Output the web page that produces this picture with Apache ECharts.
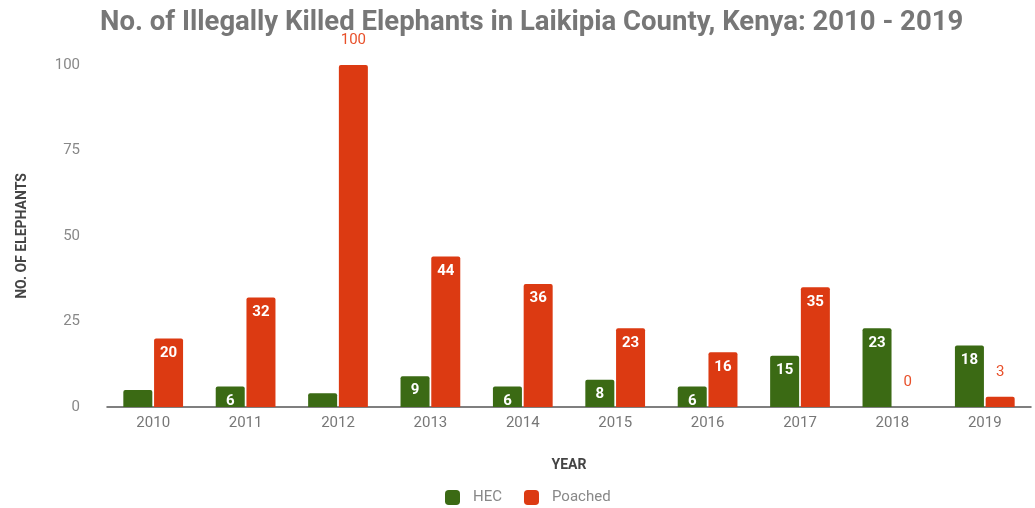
<!DOCTYPE html>
<html><head><meta charset="utf-8">
<script src="https://cdn.jsdelivr.net/npm/echarts@6/dist/echarts.min.js"></script>
<style>html,body{margin:0;padding:0;background:#fff}#c{width:1035px;height:508px}</style>
</head><body><div id="c"></div>
<script>
const years = ['2010','2011','2012','2013','2014','2015','2016','2017','2018','2019'];
const hec = [5, 6, 4, 9, 6, 8, 6, 15, 23, 18];
const poached = [20, 32, 100, 44, 36, 23, 16, 35, 0, 3];
const yTicks = [0, 25, 50, 75, 100];

const chart = echarts.init(document.getElementById('c'));
const insideLabel = {show: true, position: 'insideTop', distance: 7, color: '#fff', fontWeight: 'bold', fontSize: 15, fontFamily: 'Roboto'};
const outsideLabel = {show: true, position: 'top', distance: 17, color: '#e8502a', fontWeight: 'normal', fontSize: 15, fontFamily: 'Roboto'};

const hecData = hec.map(v => ({value: v, label: v < 6 ? {show: false} : insideLabel}));
const poachedData = poached.map(v => ({value: v, label: (v < 6 || v >= 100) ? outsideLabel : insideLabel}));

chart.setOption({
  animation: false,
  graphic: [{
    type: 'text', left: 100, top: 9,
    style: {text: 'No. of Illegally Killed Elephants in Laikipia County, Kenya: 2010 - 2019',
      font: 'bold 27.5px Roboto', fill: '#777'}
  }],
  grid: {left: 107, right: 4, top: 65, bottom: 101},
  legend: {
    bottom: 3, left: 445, padding: 0, itemWidth: 15, itemHeight: 15, itemGap: 22,
    icon: 'roundRect',
    textStyle: {color: '#888', fontSize: 15, fontFamily: 'Roboto', padding: [0, 0, 0, 8]},
    data: ['HEC', 'Poached']
  },
  xAxis: {
    type: 'category', data: years,
    name: 'YEAR', nameLocation: 'middle', nameGap: 51,
    nameTextStyle: {color: '#444', fontWeight: 'bold', fontSize: 14, fontFamily: 'Roboto'},
    axisLine: {lineStyle: {color: '#555', width: 1.5}},
    axisTick: {show: false},
    axisLabel: {color: '#777', fontSize: 15, fontFamily: 'Roboto', margin: 9}
  },
  yAxis: {
    type: 'value', min: 0, max: 100, interval: 25,
    name: 'NO. OF ELEPHANTS', nameLocation: 'middle', nameGap: 78, nameRotate: 90,
    nameTextStyle: {color: '#444', fontWeight: 'bold', fontSize: 14, fontFamily: 'Roboto'},
    axisLine: {show: false}, axisTick: {show: false}, splitLine: {show: false},
    axisLabel: {color: '#888', fontSize: 15, fontFamily: 'Roboto', margin: 27,
      formatter: v => yTicks.includes(v) ? String(v) : ''}
  },
  series: [
    {name: 'HEC', type: 'bar', data: hecData, barWidth: 29, barGap: '6%',
     itemStyle: {color: '#3b6a14', borderRadius: [2, 2, 0, 0]}},
    {name: 'Poached', type: 'bar', data: poachedData, barWidth: 29,
     itemStyle: {color: '#dc3a12', borderRadius: [2, 2, 0, 0]}}
  ]
});
</script></body></html>
